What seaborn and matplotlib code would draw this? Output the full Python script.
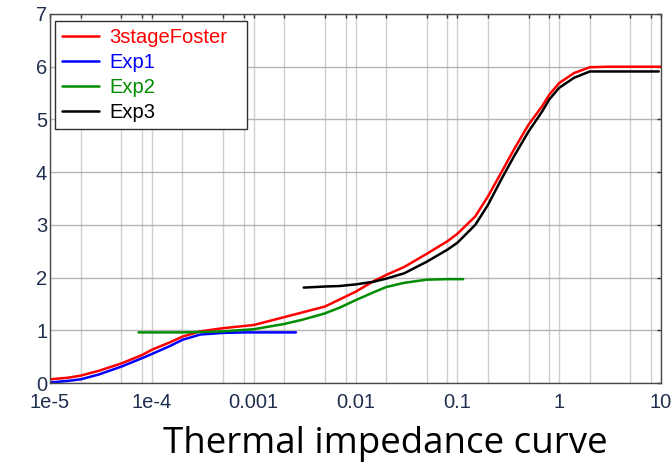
import matplotlib
matplotlib.use("Agg")

import matplotlib.pyplot as plt
import matplotlib.ticker as mticker
import pandas as pd
import seaborn as sns

# ─── DATA ────────────────────────────────────────────────────────
foster_t = [1e-5, 1.5e-5, 2e-5, 3e-5, 5e-5, 8e-5, 1e-4, 1.5e-4, 2e-4, 3e-4, 5e-4,
            1e-3, 2e-3, 5e-3, 1e-2, 1.5e-2, 2e-2, 3e-2, 5e-2, 0.08, 0.1, 0.15,
            0.2, 0.275, 0.36, 0.5, 0.68, 0.8, 1, 1.4, 2, 3, 5, 10]
foster_z = [0.07, 0.10, 0.14, 0.23, 0.37, 0.53, 0.63, 0.77, 0.88, 0.98, 1.04,
            1.10, 1.25, 1.45, 1.73, 1.93, 2.05, 2.20, 2.45, 2.69, 2.83, 3.16,
            3.54, 4.02, 4.43, 4.90, 5.25, 5.47, 5.69, 5.88, 5.99, 6.00, 6.00, 6.00]

exp1_t = [1e-5, 1.5e-5, 2e-5, 3e-5, 5e-5, 8e-5, 1e-4, 1.5e-4, 2e-4, 3e-4, 5e-4,
          8e-4, 1e-3, 2e-3, 2.6e-3]
exp1_z = [0.01, 0.04, 0.07, 0.16, 0.31, 0.47, 0.55, 0.70, 0.82, 0.92, 0.95,
          0.96, 0.96, 0.96, 0.96]

exp2_t = [7.4e-5, 1e-4, 2e-4, 3.6e-4, 5e-4, 1e-3, 2e-3, 3e-3, 5e-3, 7e-3, 1e-2,
          1.5e-2, 2e-2, 3e-2, 5e-2, 0.08, 0.114]
exp2_z = [0.96, 0.96, 0.96, 0.97, 0.98, 1.02, 1.12, 1.20, 1.32, 1.43, 1.57,
          1.72, 1.82, 1.90, 1.96, 1.97, 1.97]

exp3_t = [3.1e-3, 5e-3, 7e-3, 1e-2, 1.5e-2, 2e-2, 3e-2, 5e-2, 0.08, 0.1, 0.15,
          0.2, 0.275, 0.36, 0.5, 0.68, 0.8, 1, 1.4, 2, 3, 5, 9.5]
exp3_z = [1.81, 1.83, 1.84, 1.87, 1.92, 1.98, 2.08, 2.30, 2.53, 2.66, 3.00,
          3.38, 3.89, 4.30, 4.77, 5.15, 5.38, 5.60, 5.79, 5.91, 5.91, 5.91, 5.91]

series_names  = ["3stageFoster", "Exp1", "Exp2", "Exp3"]
series_colors = ["#ff0000", "#0000ff", "#008c00", "#000000"]

x_ticks  = [1e-5, 1e-4, 1e-3, 1e-2, 1e-1, 1, 10]
x_labels = ["1e-5", "1e-4", "0.001", "0.01", "0.1", "1", "10"]
y_ticks  = [0, 1, 2, 3, 4, 5, 6, 7]

CAPTION = "Thermal impedance curve"

# ─── STYLE ───────────────────────────────────────────────────────
sns.set_style("white")
plt.rcParams["font.family"] = ["Liberation Sans", "DejaVu Sans"]
TICK_C  = "#1f2f4f"
GRID_V  = "#cfcfcf"
GRID_H  = "#b4b4b4"
SPINE_C = "#4a4a4a"
FS = 14.5

frames = []
for name, t, z in zip(series_names,
                      [foster_t, exp1_t, exp2_t, exp3_t],
                      [foster_z, exp1_z, exp2_z, exp3_z]):
    frames.append(pd.DataFrame({"t": t, "z": z, "series": name}))
df = pd.concat(frames, ignore_index=True)

fig = plt.figure(figsize=(6.72, 4.65), dpi=100, facecolor="white")
ax = fig.add_axes([50 / 672, 82 / 465, 611 / 672, 369 / 465])

sns.lineplot(data=df, x="t", y="z", hue="series", hue_order=series_names,
             palette=series_colors, estimator=None, sort=False,
             linewidth=1.8, ax=ax)

ax.set_xscale("log")
ax.set_xlim(1e-5, 10)
ax.set_ylim(0, 7)

# grid: decades plus 2,5,8 minors
ax.xaxis.set_major_locator(mticker.FixedLocator(x_ticks))
ax.xaxis.set_major_formatter(mticker.FixedFormatter(x_labels))
ax.xaxis.set_minor_locator(mticker.LogLocator(base=10, subs=(2, 5, 8)))
ax.xaxis.set_minor_formatter(mticker.NullFormatter())
ax.set_yticks(y_ticks)
ax.grid(True, which="both", axis="x", color=GRID_V, linewidth=1.0)
ax.grid(True, which="major", axis="y", color=GRID_H, linewidth=1.0)
ax.set_axisbelow(True)

ax.tick_params(axis="both", which="both", direction="in", top=True, right=True,
               length=3, width=1, color="#333333", labelcolor=TICK_C,
               labelsize=FS, pad=2)
ax.tick_params(axis="x", pad=7)
for s in ax.spines.values():
    s.set_color(SPINE_C)
    s.set_linewidth(1.0)
ax.set_xlabel("")
ax.set_ylabel("")

# legend box ~ px 55..247 x 21..131
leg = ax.legend(loc="upper left", bbox_to_anchor=(5 / 611, 0, 192 / 611, 362 / 369),
                mode="expand", borderaxespad=0,
                fontsize=FS, frameon=True, fancybox=False, framealpha=1,
                edgecolor="#303030", handlelength=1.85, handletextpad=0.5,
                labelspacing=0.3, borderpad=0.35, title=None)
leg.get_frame().set_linewidth(1.0)
for txt, col in zip(leg.get_texts(), series_colors):
    txt.set_color(col)

fig.text(385 / 672, (465 - 453) / 465, CAPTION, ha="center", va="baseline",
         fontsize=26.5, color="black", family=["Open Sans", "DejaVu Sans"])

fig.savefig("out.png", dpi=100, facecolor="white")
